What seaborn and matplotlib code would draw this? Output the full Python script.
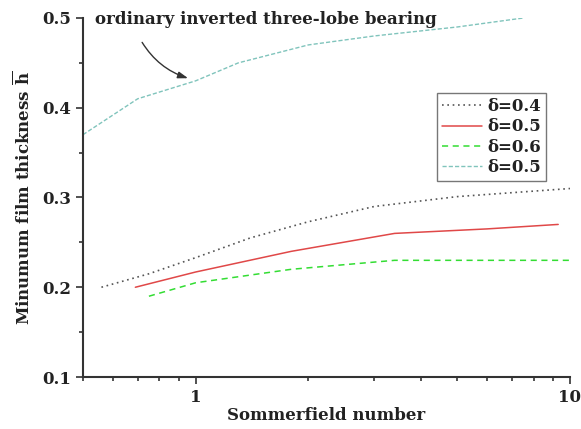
import matplotlib
matplotlib.use("Agg")
import matplotlib.pyplot as plt
import seaborn as sns
import pandas as pd
from matplotlib.ticker import FixedLocator, FixedFormatter, NullFormatter, MultipleLocator

# data
x_d04 = [0.56, 0.75, 1.0, 1.4, 2.0, 3.0, 5.0, 10.0]
y_d04 = [0.200, 0.215, 0.233, 0.255, 0.273, 0.290, 0.301, 0.310]
x_d05 = [0.69, 1.0, 1.8, 3.4, 6.0, 9.3]
y_d05 = [0.200, 0.217, 0.240, 0.260, 0.265, 0.270]
x_d06 = [0.75, 1.0, 1.8, 3.4, 10.0]
y_d06 = [0.190, 0.205, 0.220, 0.230, 0.230]
x_ord = [0.5, 0.7, 1.0, 1.3, 2.0, 3.0, 5.0, 7.5]
y_ord = [0.370, 0.410, 0.430, 0.450, 0.470, 0.480, 0.490, 0.500]
labels = ["δ=0.4", "δ=0.5", "δ=0.6", "δ=0.5"]
annot_text = "ordinary inverted three-lobe bearing"

sns.set_style("ticks")
plt.rcParams['font.family'] = ['DejaVu Serif']
plt.rcParams['font.weight'] = 'bold'
plt.rcParams['mathtext.fontset'] = 'dejavuserif'

fig = plt.figure(figsize=(5.81, 4.29), dpi=100)
ax = fig.add_axes([83/581, 1 - 377/429, (570-83)/581, (377-18)/429])

styles = [
    dict(color="#555555", linestyle=(0, (1, 2.2)), linewidth=1.2),
    dict(color="#e04848", linestyle="-", linewidth=1.1),
    dict(color="#33dd33", linestyle=(0, (4, 3)), linewidth=1.1),
    dict(color="#80c4bc", linestyle=(0, (3, 1.5)), linewidth=1.0),
]
series = [(x_d04, y_d04), (x_d05, y_d05), (x_d06, y_d06), (x_ord, y_ord)]
for (xs, ys), lab, st in zip(series, labels, styles):
    df = pd.DataFrame({"S": xs, "h": ys})
    sns.lineplot(data=df, x="S", y="h", ax=ax, label=lab, **st)

ax.set_xscale("log")
ax.set_xlim(0.5, 10)
ax.set_ylim(0.1, 0.5)
ax.xaxis.set_major_locator(FixedLocator([1, 10]))
ax.xaxis.set_major_formatter(FixedFormatter(["1", "10"]))
ax.xaxis.set_minor_locator(FixedLocator([0.5, 0.6, 0.7, 0.8, 0.9, 2, 3, 4, 5, 6, 7, 8, 9]))
ax.xaxis.set_minor_formatter(NullFormatter())
ax.yaxis.set_major_locator(MultipleLocator(0.1))
ax.yaxis.set_minor_locator(MultipleLocator(0.05))
ax.yaxis.set_major_formatter(matplotlib.ticker.FormatStrFormatter("%.1f"))

for sp in ["top", "right"]:
    ax.spines[sp].set_visible(False)
for sp in ["left", "bottom"]:
    ax.spines[sp].set_color("#333333")
    ax.spines[sp].set_linewidth(1.5)
ax.tick_params(which="major", direction="out", length=5, width=1.2, color="#333333",
               labelsize=12, labelcolor="#222222")
ax.tick_params(which="minor", direction="out", length=3, width=1.2, color="#333333")

ax.set_xlabel("Sommerfield number", fontsize=12, fontweight="bold", color="#222222", labelpad=1)
ax.set_ylabel(r"Minumum film thickness $\overline{\mathbf{h}}$", fontsize=12, fontweight="bold",
              color="#222222", labelpad=6)

leg = ax.legend(loc="upper right", bbox_to_anchor=(0.951, 0.791), borderaxespad=0, fontsize=12,
                handlelength=2.4, handletextpad=0.3, borderpad=0.3, labelspacing=0.2,
                frameon=True, fancybox=False, edgecolor="#777777", framealpha=1)
leg.get_frame().set_linewidth(1.0)
for t in leg.get_texts():
    t.set_color("#222222")

fig.text(95/581, 1 - 20/429, annot_text, fontsize=12, fontweight="bold",
         color="#222222", va="center", ha="left")
ax.annotate("", xy=(0.97, 0.432), xytext=(0.713, 0.4755),
            arrowprops=dict(arrowstyle="-|>,head_length=0.6,head_width=0.2",
                            connectionstyle="arc3,rad=0.2", color="#333333", lw=1.0))

fig.savefig("out.png", dpi=100)
